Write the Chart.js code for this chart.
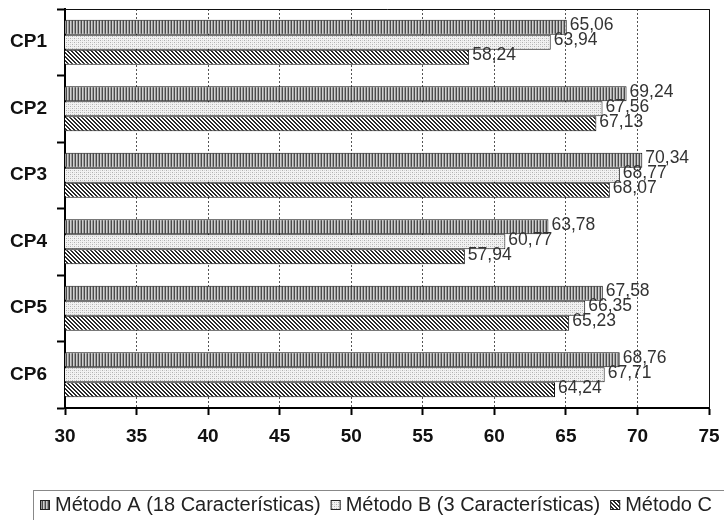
<!DOCTYPE html>
<html>
<head>
<meta charset="utf-8">
<script src="https://cdn.jsdelivr.net/npm/chart.js@4/dist/chart.umd.min.js"></script>
<style>
  body { margin: 0; background: #fff; }
  #wrap { width: 724px; height: 520px; overflow: hidden; }
</style>
</head>
<body>
<div id="wrap"><canvas id="chart" width="724" height="520"></canvas></div>
<script>
'use strict';

const categories = ['CP1', 'CP2', 'CP3', 'CP4', 'CP5', 'CP6'];
const metodoA = [65.06, 69.24, 70.34, 63.78, 67.58, 68.76];
const metodoB = [63.94, 67.56, 68.77, 60.77, 66.35, 67.71];
const metodoC = [58.24, 67.13, 68.07, 57.94, 65.23, 64.24];
const seriesLabels = [
  'Método A (18 Características)',
  'Método B (3 Características)',
  'Método C',
];

// Patterns
const makePattern = function (w, h, draw) {
  const c = document.createElement('canvas');
  c.width = w;
  c.height = h;
  const g = c.getContext('2d');
  draw(g);
  return g.createPattern(c, 'repeat');
};

const patternA = makePattern(3, 1, g => {
  g.fillStyle = '#4a4a4a';
  g.fillRect(0, 0, 1, 1);
  g.fillStyle = '#d0d0d0';
  g.fillRect(1, 0, 1, 1);
  g.fillStyle = '#9a9a9a';
  g.fillRect(2, 0, 1, 1);
});

const patternB = makePattern(4, 4, g => {
  g.fillStyle = '#f2f2f2';
  g.fillRect(0, 0, 4, 4);
  g.fillStyle = '#b0b0b0';
  g.fillRect(0, 0, 1, 1);
  g.fillRect(2, 2, 1, 1);
  g.fillStyle = '#d4d4d4';
  g.fillRect(2, 0, 1, 1);
  g.fillRect(0, 2, 1, 1);
});

const patternC = makePattern(4, 4, g => {
  g.fillStyle = '#fff';
  g.fillRect(0, 0, 4, 4);
  g.fillStyle = '#2a2a2a';
  for (let i = 0; i < 4; i++) {
    g.fillRect(i, i, 1, 1);
    g.fillRect((i + 1) % 4, i, 1, 1);
  }
});

const patterns = [patternA, patternB, patternC];
const fontFamily = 'Arial, "Liberation Sans", sans-serif';

// Value labels with decimal comma
const valueLabels = {
  id: 'valueLabels',
  afterDatasetsDraw(chart) {
    const ctx = chart.ctx;
    ctx.save();
    ctx.font = '17.5px ' + fontFamily;
    ctx.fillStyle = '#333';
    ctx.textAlign = 'left';
    ctx.textBaseline = 'middle';
    chart.data.datasets.forEach((ds, i) => {
      chart.getDatasetMeta(i).data.forEach((bar, j) => {
        const txt = ds.data[j].toFixed(2).replace('.', ',');
        ctx.fillText(txt, bar.x + 3, bar.y - 2);
      });
    });
    ctx.restore();
  },
};

// Frame top/right + boxed legend at the bottom
const frameLegend = {
  id: 'frameLegend',
  afterDraw(chart) {
    const ctx = chart.ctx;
    const a = chart.chartArea;
    ctx.save();
    ctx.setLineDash([]);
    ctx.strokeStyle = '#111';
    ctx.lineWidth = 1;
    ctx.beginPath();
    ctx.moveTo(a.left, a.top + 0.5);
    ctx.lineTo(a.right + 0.5, a.top + 0.5);
    ctx.lineTo(a.right + 0.5, a.bottom);
    ctx.stroke();

    ctx.strokeStyle = '#888';
    ctx.strokeRect(33.5, 490.5, 760, 60);

    ctx.font = '20px ' + fontFamily;
    ctx.textBaseline = 'middle';
    let x = 40;
    const y = 505;
    seriesLabels.forEach((label, i) => {
      ctx.fillStyle = patterns[i];
      ctx.fillRect(x, y - 5, 10, 10);
      ctx.strokeStyle = '#222';
      ctx.strokeRect(x + 0.5, y - 4.5, 9, 9);
      ctx.fillStyle = '#222';
      ctx.fillText(label, x + 15, y);
      x += 15 + ctx.measureText(label).width + 10;
    });
    ctx.restore();
  },
};

new Chart(document.querySelector('#chart'), {
  type: 'bar',
  data: {
    labels: categories,
    datasets: [metodoA, metodoB, metodoC].map((data, i) => ({
      label: seriesLabels[i],
      data,
      backgroundColor: patterns[i],
      borderColor: '#111',
      borderWidth: 1,
      borderSkipped: 'start',
      categoryPercentage: 0.68,
      barPercentage: 1,
    })),
  },
  options: {
    indexAxis: 'y',
    responsive: false,
    animation: false,
    layout: {
      padding: { top: 9, right: 15, left: 0, bottom: 0 },
    },
    plugins: {
      legend: { display: false },
      tooltip: { enabled: false },
    },
    scales: {
      x: {
        min: 30,
        max: 75,
        afterFit: s => {
          s.height = 112;
          s.paddingLeft = 0;
          s.paddingRight = 0;
        },
        ticks: {
          stepSize: 5,
          color: '#111',
          padding: 10,
          font: { family: fontFamily, size: 19, weight: 'bold' },
        },
        grid: {
          color: '#555',
          tickBorderDash: [],
          tickColor: '#000',
          tickWidth: 2,
          tickLength: 7,
        },
        border: { color: '#000', width: 2, dash: [2, 2] },
      },
      y: {
        afterFit: s => {
          s.width = 65;
          s.paddingTop = 0;
          s.paddingBottom = 0;
        },
        ticks: {
          color: '#111',
          padding: 10,
          font: { family: fontFamily, size: 19, weight: 'bold' },
        },
        grid: {
          drawOnChartArea: false,
          offset: true,
          tickColor: '#000',
          tickWidth: 2,
          tickLength: 8,
        },
        border: { color: '#000', width: 2 },
      },
    },
  },
  plugins: [valueLabels, frameLegend],
});
</script>
</body>
</html>
